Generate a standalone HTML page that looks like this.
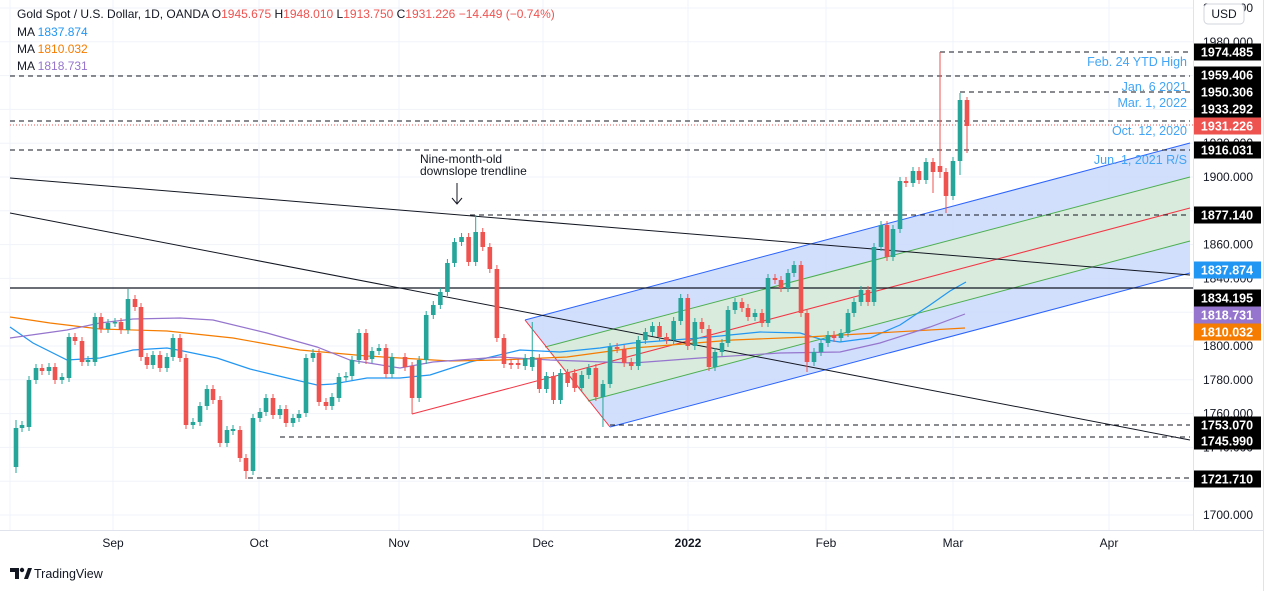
<!DOCTYPE html>
<html><head><meta charset="utf-8"><style>
html,body{margin:0;padding:0;background:#fff;width:1274px;height:591px;overflow:hidden}
svg{display:block;font-family:"Liberation Sans",sans-serif}
</style></head><body>
<svg id="s" width="1274" height="591" xmlns="http://www.w3.org/2000/svg">
<rect width="1274" height="591" fill="#fff"/>
<g id="grid" stroke="#f0f3fa" stroke-width="1"></g>
<polygon points="525,320 1190,143 1190,273 610,427" fill="#c9d8fb" opacity="0.85"/>
<polygon points="545,347 1190,177 1190,241 588,401" fill="#d8ecd8" opacity="0.9"/>
<line x1="525" y1="320" x2="1190" y2="143" stroke="#2962ff" stroke-width="1"/>
<line x1="610" y1="427" x2="1190" y2="273" stroke="#2962ff" stroke-width="1"/>
<line x1="545" y1="347" x2="1190" y2="177" stroke="#4caf50" stroke-width="1"/>
<line x1="588" y1="401" x2="1190" y2="241" stroke="#4caf50" stroke-width="1"/>
<line x1="412" y1="414" x2="1190" y2="208" stroke="#f23645" stroke-width="1"/>
<line x1="525" y1="320" x2="610" y2="427" stroke="#f23645" stroke-width="1"/>
<polyline fill="none" stroke="#2196f3" stroke-width="1.2" points="10,327 33,343 67,360 100,358 133,350 167,348 183,351 217,358 250,369 283,377 317,385 333,384 367,378 400,378 430,375 470,362 520,350 560,352 600,348 633,343 700,338 760,332 800,333 820,339 840,342 870,338 900,325 930,305 950,291 966,282"/>
<polyline fill="none" stroke="#f57c00" stroke-width="1.2" points="10,317 50,323 100,329 167,331 233,338 300,350 367,356 400,358 450,361 500,360 567,357 633,348 733,340 807,337 965,328"/>
<polyline fill="none" stroke="#9575cd" stroke-width="1.2" points="10,338 67,330 100,323 133,319 180,318 213,320 267,333 317,347 350,360 400,368 433,362 500,357 550,360 633,363 700,358 780,353 840,352 880,343 930,327 965,314"/>
<line x1="10" y1="178" x2="1190" y2="275" stroke="#131722" stroke-width="1"/>
<line x1="10" y1="213" x2="1190" y2="440" stroke="#131722" stroke-width="1"/>
<line x1="10" y1="288" x2="1193" y2="288" stroke="#131722" stroke-width="1.2"/>
<g stroke="#131722" stroke-width="1" stroke-dasharray="5,4">
<line x1="940" y1="52" x2="1190" y2="52"/>
<line x1="10" y1="76" x2="1190" y2="76"/>
<line x1="960" y1="92" x2="1190" y2="92"/>
<line x1="10" y1="121" x2="1190" y2="121"/>
<line x1="10" y1="150" x2="1190" y2="150"/>
<line x1="470" y1="215" x2="1190" y2="215"/>
<line x1="610" y1="425" x2="1190" y2="425"/>
<line x1="280" y1="437" x2="1190" y2="437"/>
<line x1="248" y1="478" x2="1190" y2="478"/>
</g>
<line x1="10" y1="125" x2="1193" y2="125" stroke="#ef5350" stroke-width="1" stroke-dasharray="1,2"/>
<g id="candles"></g>
<g fill="#42a5f5" font-size="12.5" text-anchor="end">
<text x="1187" y="66">Feb. 24 YTD High</text>
<text x="1187" y="91">Jan. 6 2021</text>
<text x="1187" y="107">Mar. 1, 2022</text>
<text x="1187" y="135">Oct. 12, 2020</text>
<text x="1187" y="164">Jun. 1, 2021 R/S</text>
</g>
<g fill="#131722" font-size="12">
<text x="420" y="163">Nine-month-old</text>
<text x="420" y="175">downslope trendline</text>
</g>
<line x1="457" y1="183" x2="457" y2="203" stroke="#131722" stroke-width="1"/>
<polyline points="452,198 457,204 462,198" fill="none" stroke="#131722" stroke-width="1"/>
<g font-size="12" fill="#131722">
<text x="17" y="18">Gold Spot / U.S. Dollar, 1D, OANDA  <tspan>O</tspan><tspan fill="#ef5350">1945.675</tspan>  H<tspan fill="#ef5350">1948.010</tspan>  L<tspan fill="#ef5350">1913.750</tspan>  C<tspan fill="#ef5350">1931.226</tspan>  <tspan fill="#ef5350">−14.449 (−0.74%)</tspan></text>
<text x="17" y="36">MA  <tspan fill="#2196f3">1837.874</tspan></text>
<text x="17" y="53">MA  <tspan fill="#f57c00">1810.032</tspan></text>
<text x="17" y="70">MA  <tspan fill="#9575cd">1818.731</tspan></text>
</g>
<rect x="1194" y="0" width="80" height="591" fill="#fff"/>
<line x1="1193.5" y1="0" x2="1193.5" y2="530" stroke="#e0e3eb"/>
<line x1="1263.5" y1="0" x2="1263.5" y2="591" stroke="#e0e3eb"/>
<line x1="0" y1="530.5" x2="1264" y2="530.5" stroke="#e0e3eb"/>
<g id="plab" font-size="12" fill="#131722" text-anchor="middle"></g>
<rect x="1204" y="4" width="40" height="20" rx="4" fill="#fff" stroke="#d1d4dc"/>
<text x="1224" y="18" font-size="12" fill="#131722" text-anchor="middle">USD</text>
<g id="tags"></g>
<g font-size="12" fill="#131722" text-anchor="middle">
<text x="113" y="547">Sep</text><text x="259" y="547">Oct</text><text x="399" y="547">Nov</text><text x="543" y="547">Dec</text>
<text x="688" y="547" font-weight="bold">2022</text><text x="826" y="547">Feb</text><text x="953" y="547">Mar</text><text x="1109" y="547">Apr</text>
</g>
<g>
<path d="M10 568 h9 v11 h-4 v-7 h-5z" fill="#131722"/>
<circle cx="22" cy="570" r="2.2" fill="#131722"/>
<path d="M24 579 l4 -11 h4 l-4 11z" fill="#131722"/>
<text x="34" y="578" font-size="12.5" fill="#131722">TradingView</text>
</g>
</svg>
<script>
(function(){
var NS="http://www.w3.org/2000/svg";
function el(p,t,a){var e=document.createElementNS(NS,t);for(var k in a)e.setAttribute(k,a[k]);p.appendChild(e);return e;}
var g=document.getElementById('grid');
for(var p=1700;p<=2000;p+=20){var y=515-(p-1700)*1.69;el(g,'line',{x1:0,x2:1193,y1:y,y2:y});}
[10,113,259,399,543,688,826,953,1109].forEach(function(x){el(g,'line',{x1:x,x2:x,y1:0,y2:530});});
var A=[[16,'g',428,467,420,473],[22,'g',425,428],[29,'g',380,427],[36,'g',368,380],[42,'r',368,371],[49,'g',367,371],[55,'r',367,380],[62,'g',377,380],[69,'g',337,378],[75,'r',337,341],[82,'r',341,362],[88,'g',360,362],[95,'g',317,362],[101,'r',317,329],[108,'g',323,329],[115,'g',322,323],[121,'r',322,330],[128,'g',299,330,289],[135,'r',299,307],[141,'r',307,357],[147,'r',357,365],[153,'g',355,365],[160,'r',355,368],[167,'g',357,368],[173,'g',338,357],[180,'r',338,358],[186,'r',358,425],[193,'g',422,425],[200,'g',406,422],[207,'g',389,406],[213,'r',389,400],[220,'r',400,443],[227,'g',430,443],[233,'g',429,431],[240,'r',430,458],[246,'r',458,471,null,479],[253,'g',418,471],[260,'g',412,418],[266,'g',398,412],[273,'r',398,415],[280,'g',409,415],[286,'r',409,423],[293,'g',418,423],[299,'g',414,418],[306,'g',358,413],[313,'g',353,358],[319,'r',353,402],[326,'r',402,406],[332,'g',397,406],[339,'g',377,398],[346,'g',376,377],[352,'g',360,376],[359,'g',333,360],[366,'r',333,360],[372,'g',351,359],[379,'g',348,351],[386,'r',348,374],[392,'g',357,374]];
var B=[['r',357,367],['r',366,398,null,414],['g',360,398],['g',315,360],['g',305,315],['g',292,305],['g',263,292],['g',242,263],['g',237,242],['r',237,262],['g',232,262,215],['r',232,247],['r',247,269],['r',269,338],['r',338,364],['r',363,365],['r',363,365],['g',358,366],['g',357,367,322],['r',358,389],['g',376,389],['r',376,400],['g',373,400],['r',373,383],['r',373,388],['g',375,388],['g',368,375],['r',368,397],['g',384,397,null,427],['g',347,384],['r',347,349],['r',349,363],['r',362,366],['g',340,366],['g',332,340],['g',326,332],['r',326,337],['r',337,340],['g',321,340],['g',298,321],['r',298,346],['g',322,346],['r',322,329],['r',329,367]];
B.forEach(function(c,i){A.push([405+i*304/43].concat(c));});
var C=[[715,'g',352,367],[722,'g',343,352],[728,'g',310,343],[735,'g',302,310],[742,'r',302,308],[748,'r',308,317],[755,'g',313,317],[762,'r',313,323],[768,'g',278,323],[775,'r',278,280],[781,'r',280,288],[788,'g',273,288],[794,'g',265,273],
[801,'r',265,313],[807,'r',313,362,null,372],[814,'g',352,362],[821,'g',343,352],[828,'g',335,343],[834,'r',335,338],[841,'g',333,338],[848,'g',313,333],[854,'g',302,313],[861,'g',290,302],[868,'r',290,302],[874,'g',247,302],[881,'g',225,247],[887,'r',225,257],[893,'g',229,257],[900,'g',181,229],[906,'r',181,183],[913,'g',171,183],[919,'r',171,180],[926,'g',162,180],[933,'r',162,172,null,193],[940,'r',166,172,52,178],[946,'r',172,196,null,213],[953,'g',161,196],[960,'g',100,161,93,175],[967,'r',100,126,97,153]];
A=A.concat(C);
var cg=document.getElementById('candles');
A.forEach(function(c){var x=c[0],col=c[1]=='g'?'#26a69a':'#ef5350',t=c[2],b=c[3],h=c[4]!=null?c[4]:t-4,l=c[5]!=null?c[5]:b+4;
el(cg,'line',{x1:x,x2:x,y1:h,y2:l,stroke:col,'stroke-width':1});
el(cg,'rect',{x:x-2.3,y:t,width:4.6,height:Math.max(1.5,b-t),fill:col});});
var pl=document.getElementById('plab');
for(var p=1700;p<=2000;p+=20){var y=515-(p-1700)*1.69;var t=el(pl,'text',{x:1228,y:y+4});t.textContent=p.toFixed(3);}
var tg=document.getElementById('tags');
[[52,'1974.485','#000'],[75,'1959.406','#000'],[92,'1950.306','#000'],[109,'1933.292','#000'],[126,'1931.226','#ef5350'],[150,'1916.031','#000'],[215,'1877.140','#000'],[270,'1837.874','#2196f3'],[298,'1834.195','#000'],[315,'1818.731','#9575cd'],[332,'1810.032','#f57c00'],[425,'1753.070','#000'],[441,'1745.990','#000'],[479,'1721.710','#000']].forEach(function(d){
el(tg,'rect',{x:1194,y:d[0]-8.5,width:67,height:17,fill:d[2]});
var t=el(tg,'text',{x:1227,y:d[0]+4.5,'text-anchor':'middle','font-size':'12.5','font-weight':'bold',fill:'#fff'});t.textContent=d[1];});
})();
</script>
</body></html>
